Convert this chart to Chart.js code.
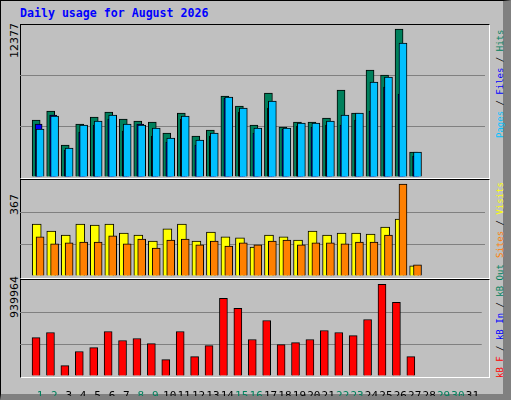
<!DOCTYPE html>
<html><head><meta charset="utf-8">
<script src="https://cdn.jsdelivr.net/npm/chart.js@4/dist/chart.umd.min.js"></script>
<style>
body{margin:0;background:#fff;width:512px;height:400px;overflow:hidden;position:relative;font-family:"DejaVu Sans Mono",monospace}
#frame{position:absolute;left:0;top:0;width:502px;height:393px;background:#C0C0C0;border:1px solid #000;border-right:8px solid #808080;border-bottom:6px solid #808080}
.panel{position:absolute;left:20px;width:470px;background:#C0C0C0;border-top:1px solid #000;border-left:1px solid #000;border-bottom:1px solid #fff;border-right:1px solid #fff;box-sizing:border-box}
.cv{position:absolute}
.rot{position:absolute;transform-origin:0 0;transform:rotate(-90deg);white-space:nowrap;line-height:12px}
#title{position:absolute;left:20px;top:6px;color:#0000FF;font-weight:bold;font-size:11.6px}
</style></head><body>
<div id="frame"></div>
<div id="title">Daily usage for August 2026</div>
<div class="panel" style="top:24px;height:155px"></div>
<div class="panel" style="top:179px;height:100px"></div>
<div class="panel" style="top:279px;height:99px"></div>
<div class="rot" style="left:9px;top:58px;font-family:'DejaVu Sans';font-size:11px">12377</div>
<div class="rot" style="left:9px;top:215px;font-family:'DejaVu Sans';font-size:11px">367</div>
<div class="rot" style="left:9px;top:318px;font-family:'DejaVu Sans';font-size:11px">939964</div>
<div class="rot" style="left:494px;top:138px;font-size:9px"><span style="color:#00C0FF">Pages</span> / <span style="color:#0000FF">Files</span> / <span style="color:#00805C">Hits</span></div>
<div class="rot" style="left:494px;top:258px;font-size:9px"><span style="color:#FF8000">Sites</span> / <span style="color:#FFFF00">Visits</span></div>
<div class="rot" style="left:494px;top:378px;font-size:9px"><span style="color:#FF0000">kB F</span> / <span style="color:#0000FF">kB In</span> / <span style="color:#00805C">kB Out</span></div>
<canvas id="c1" class="cv" style="left:20px;top:25px;width:465px;height:152px"></canvas>
<canvas id="c2" class="cv" style="left:20px;top:181px;width:465px;height:95px"></canvas>
<canvas id="c3" class="cv" style="left:20px;top:281px;width:465px;height:115px"></canvas>
<script>
const days=[];for(let i=1;i<=31;i++)days.push(i);
const weekend=[1,2,8,9,15,16,22,23,29,30];
const hits=[4640,5370,2600,4310,4880,5290,4720,4560,4480,3580,5210,3340,3830,6590,5780,4230,6840,4070,4480,4480,4800,7080,5210,8710,8300,12050,2035];
const files=[3900,4960,2360,4230,4560,5050,4310,4230,3990,3170,4960,3010,3580,6510,5620,3990,6190,3990,4400,4400,4560,5050,5210,7730,8140,10900,2035];
const pages=[4310,5050,2200,3660,4230,4720,3740,4310,3340,2850,4720,2600,3340,6430,5290,3580,5620,3910,4150,4070,4230,4230,4640,5370,7330,6760,1710];
const visits=[201,174,158,201,197,201,166,158,135,182,201,135,170,151,147,112,158,151,139,174,158,166,166,162,189,220,39];
const sites=[151,124,128,131,131,155,124,143,108,139,143,120,135,116,128,120,135,139,120,128,128,124,131,131,158,355,43];
const kbytes=[380000,430000,103000,242000,281000,440000,351000,371000,321000,162000,440000,192000,301000,768000,669000,361000,549000,311000,331000,361000,450000,430000,400000,559000,907000,728000,192000];
const maxTop=12377,maxMid=367,maxBot=939964;

function pts(arr,off){return arr.map((v,i)=>({x:days[i]+off,y:v}));}
function ds(arr,off,color,w,order){return {data:pts(arr,off),backgroundColor:color,borderColor:'#000',borderWidth:1,barThickness:w,grouped:false,order:order,borderSkipped:'bottom'};}
function yscale(max){return {min:0,max:max,display:true,border:{display:false},
  ticks:{display:false},grid:{drawTicks:false,color:c=>(c.index===1||c.index===2)?'#808080':'rgba(0,0,0,0)',lineWidth:1},
  afterBuildTicks:s=>{s.ticks=[{value:0},{value:max/3},{value:2*max/3},{value:max}];},afterFit:s=>{s.width=0;}};}
function xscale(show){return {type:'linear',min:2/15,max:31+2/15,display:show,border:{display:false},grid:{display:false},
  afterBuildTicks:s=>{s.ticks=days.map(d=>({value:d}));},
  afterFit:s=>{if(show)s.height=20;},
  ticks:{display:show,autoSkip:false,maxRotation:0,padding:6,font:{family:'DejaVu Sans Mono',size:11},
   color:c=>weekend.includes(c.tick.value)?'#00805C':'#000',callback:v=>String(v)}};}
const common={responsive:false,animation:false,devicePixelRatio:1,plugins:{legend:{display:false},tooltip:{enabled:false}},layout:{padding:0}};
function mk(id,w,h,datasets,max,showX){
  const c=document.getElementById(id);c.width=w;c.height=h;
  new Chart(c,{type:'bar',data:{datasets},options:{...common,scales:{x:xscale(showX),y:yscale(max)}}});
}
mk('c1',465,152,[ds(hits,-0.27,'#00805C',8,2),ds(pages,-0.1,'#0000FF',7,1),ds(files,0,'#00C0FF',8,0)],maxTop,false);
mk('c2',465,95,[ds(visits,-0.23,'#FFFF00',9,1),ds(sites,0,'#FF8000',8,0)],maxMid,false);
mk('c3',465,115,[ds(kbytes,-0.27,'#FF0000',8,0)],maxBot,true);
</script></body></html>
